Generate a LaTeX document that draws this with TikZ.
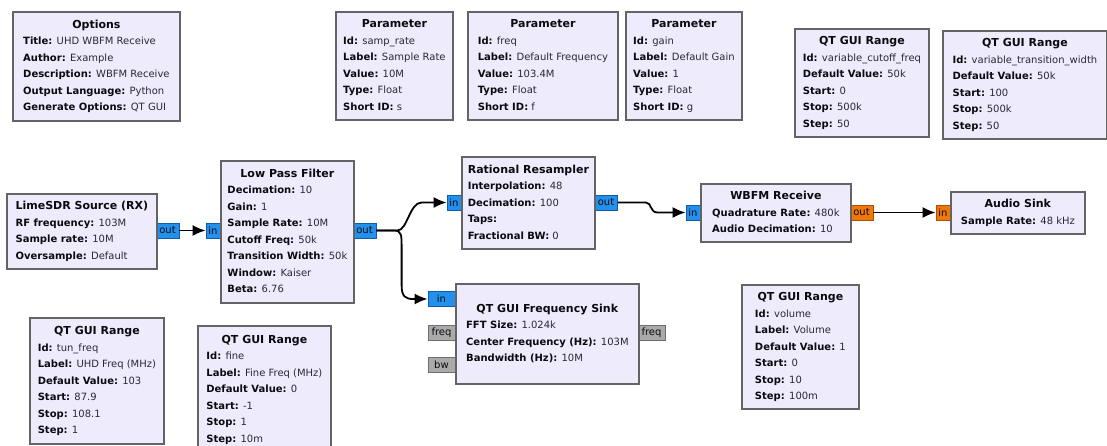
\documentclass[tikz,border=0pt]{standalone}
\usepackage{fontspec}
\setmainfont{DejaVu Sans}
\usetikzlibrary{arrows.meta}
\definecolor{blkfill}{RGB}{238,235,252}
\definecolor{blkdraw}{RGB}{100,100,100}
\definecolor{valc}{RGB}{40,40,55}
\definecolor{lblc}{RGB}{10,10,15}
\definecolor{portblue}{RGB}{35,145,235}
\definecolor{portbluedraw}{RGB}{20,90,170}
\definecolor{portorange}{RGB}{240,120,10}
\definecolor{portorangedraw}{RGB}{170,80,10}
\definecolor{portgray}{RGB}{170,170,170}
\definecolor{portgraydraw}{RGB}{110,110,110}
\newcommand\kv[2]{\textbf{#1:} {\color{valc}#2}}
\newcommand\blk[2]{\begin{tabular}{@{}l@{}}\multicolumn{1}{@{}c@{}}{\fontsize{11}{16.5}\selectfont\textbf{#1}}\\#2\end{tabular}}
\begin{document}
\begin{tikzpicture}[x=1pt,y=-1pt,
  block/.style={draw=blkdraw, line width=1.8pt, fill=blkfill, inner sep=0pt,
    anchor=north west, text=lblc, font=\fontsize{10}{16.5}\selectfont},
  portbase/.style={line width=0.8pt, inner sep=0pt, minimum height=15,
    text=lblc, font=\fontsize{10}{12}\selectfont},
  portb/.style={portbase, draw=portbluedraw, fill=portblue},
  porto/.style={portbase, draw=portorangedraw, fill=portorange},
  portg/.style={portbase, draw=portgraydraw, fill=portgray},
  conn/.style={draw=black, line width=1.8pt, -{Latex[length=13pt,width=11pt]}}
]
\useasboundingbox[fill=white] (0,0) rectangle (1107,446);

% ports
\node[portb, minimum width=23] (lime-out) at (167.5,230.5) {out};
\node[portb, minimum width=14] (lpf-in) at (213,230.5) {in};
\node[portb, minimum width=23] (lpf-out) at (364.5,230.5) {out};
\node[portb, minimum width=14] (rr-in) at (454,202.5) {in};
\node[portb, minimum width=23] (rr-out) at (606,202.5) {out};
\node[portb, minimum width=14] (wbfm-in) at (693,212.5) {in};
\node[porto, minimum width=23] (wbfm-out) at (861.5,212.5) {out};
\node[porto, minimum width=14] (aud-in) at (943,212.5) {in};
\node[portb, minimum width=27] (fs-in) at (441.5,299) {in};
\node[portg, minimum width=27] (fs-freql) at (441.5,333) {freq};
\node[portg, minimum width=27] (fs-bw) at (441.5,365) {bw};
\node[portg, minimum width=27] (fs-freqr) at (651.5,332.5) {freq};

% blocks
\node[block, minimum width=167, minimum height=109] (opt) at (12,11)
  {\blk{Options}{\kv{Title}{UHD WBFM Receive}\\\kv{Author}{Example}\\\kv{Description}{WBFM Receive}\\\kv{Output Language}{Python}\\\kv{Generate Options}{QT GUI}}};
\node[block, minimum width=117, minimum height=108] (par1) at (335,11)
  {\blk{Parameter}{\kv{Id}{samp\_rate}\\\kv{Label}{Sample Rate}\\\kv{Value}{10M}\\\kv{Type}{Float}\\\kv{Short ID}{s}}};
\node[block, minimum width=150, minimum height=108] (par2) at (467,11)
  {\blk{Parameter}{\kv{Id}{freq}\\\kv{Label}{Default Frequency}\\\kv{Value}{103.4M}\\\kv{Type}{Float}\\\kv{Short ID}{f}}};
\node[block, minimum width=116, minimum height=108] (par3) at (625,11)
  {\blk{Parameter}{\kv{Id}{gain}\\\kv{Label}{Default Gain}\\\kv{Value}{1}\\\kv{Type}{Float}\\\kv{Short ID}{g}}};
\node[block, minimum width=134, minimum height=108] (rng1) at (794,28)
  {\blk{QT GUI Range}{\kv{Id}{variable\_cutoff\_freq}\\\kv{Default Value}{50k}\\\kv{Start}{0}\\\kv{Stop}{500k}\\\kv{Step}{50}}};
\node[block, minimum width=164, minimum height=108] (rng2) at (942,30)
  {\blk{QT GUI Range}{\kv{Id}{variable\_transition\_width}\\\kv{Default Value}{50k}\\\kv{Start}{100}\\\kv{Stop}{500k}\\\kv{Step}{50}}};
\node[block, minimum width=150, minimum height=75] (lime) at (6,193)
  {\blk{LimeSDR Source (RX)}{\kv{RF frequency}{103M}\\\kv{Sample rate}{10M}\\\kv{Oversample}{Default}}};
\node[block, minimum width=133, minimum height=142] (lpf) at (220,160)
  {\blk{Low Pass Filter}{\kv{Decimation}{10}\\\kv{Gain}{1}\\\kv{Sample Rate}{10M}\\\kv{Cutoff Freq}{50k}\\\kv{Transition Width}{50k}\\\kv{Window}{Kaiser}\\\kv{Beta}{6.76}}};
\node[block, minimum width=133, minimum height=92] (rr) at (461,156)
  {\blk{Rational Resampler}{\kv{Interpolation}{48}\\\kv{Decimation}{100}\\\kv{Taps}{}\\\kv{Fractional BW}{0}}};
\node[block, minimum width=150, minimum height=58] (wbfm) at (700,183)
  {\blk{WBFM Receive}{\kv{Quadrature Rate}{480k}\\\kv{Audio Decimation}{10}}};
\node[block, minimum width=134, minimum height=42] (aud) at (950,191)
  {\blk{Audio Sink}{\kv{Sample Rate}{48 kHz}}};
\node[block, minimum width=183, minimum height=100] (fs) at (455,283)
  {\blk{QT GUI Frequency Sink}{\kv{FFT Size}{1.024k}\\\kv{Center Frequency (Hz)}{103M}\\\kv{Bandwidth (Hz)}{10M}}};
\node[block, minimum width=134, minimum height=126] (rng3) at (29,317)
  {\blk{QT GUI Range}{\kv{Id}{tun\_freq}\\\kv{Label}{UHD Freq (MHz)}\\\kv{Default Value}{103}\\\kv{Start}{87.9}\\\kv{Stop}{108.1}\\\kv{Step}{1}}};
\node[block, minimum width=133, minimum height=127] (rng4) at (197,325)
  {\blk{QT GUI Range}{\kv{Id}{fine}\\\kv{Label}{Fine Freq (MHz)}\\\kv{Default Value}{0}\\\kv{Start}{-1}\\\kv{Stop}{1}\\\kv{Step}{10m}}};
\node[block, minimum width=117, minimum height=124] (rng5) at (741,284)
  {\blk{QT GUI Range}{\kv{Id}{volume}\\\kv{Label}{Volume}\\\kv{Default Value}{1}\\\kv{Start}{0}\\\kv{Stop}{10}\\\kv{Step}{100m}}};

% connectors
\draw[conn] (lime-out.east) -- (lpf-in.west);
\draw[conn] (lpf-out.east) -- ++(21,0) .. controls +(10,0) and +(-12,0) .. ([xshift=-25pt]rr-in.west) -- (rr-in.west);
\draw[conn] (lpf-out.east) -- ++(18,0) .. controls +(7,0) and +(0,-9) .. ([xshift=-26pt,yshift=54pt]fs-in.west) -- ([xshift=-26pt,yshift=14pt]fs-in.west) .. controls +(0,12) and +(-8,0) .. ([xshift=-14pt]fs-in.west) -- (fs-in.west);
\draw[conn] (rr-out.east) -- ++(28,0) .. controls +(6,0) and +(-8,0) .. ([xshift=-28pt]wbfm-in.west) -- (wbfm-in.west);
\draw[conn] (wbfm-out.east) -- (aud-in.west);
\end{tikzpicture}
\end{document}
